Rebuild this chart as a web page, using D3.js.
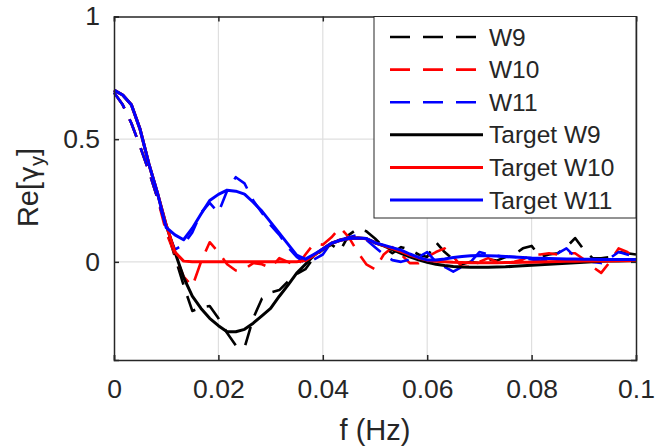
<!DOCTYPE html>
<html>
<head>
<meta charset="utf-8">
<script src="https://cdn.jsdelivr.net/npm/d3@7"></script>
<style>
  body { margin: 0; background: #fff; }
  text { font-family: "Liberation Sans", Arial, sans-serif; fill: #262626; }
</style>
</head>
<body>
<div id="chart"></div>
<script>
// frequency samples (Hz)
const freq = [0, 0.00167, 0.00333, 0.005, 0.00667, 0.00833, 0.01, 0.01167, 0.01333, 0.015,
  0.01667, 0.01833, 0.02, 0.02167, 0.02333, 0.025, 0.02667, 0.02833, 0.03, 0.03167,
  0.03333, 0.035, 0.03667, 0.03833, 0.04, 0.04167, 0.04333, 0.045, 0.04667, 0.04833,
  0.05, 0.05167, 0.05333, 0.055, 0.05667, 0.05833, 0.06, 0.06167, 0.06333, 0.065,
  0.06667, 0.06833, 0.07, 0.07167, 0.07333, 0.075, 0.07667, 0.07833, 0.08, 0.08167,
  0.08333, 0.085, 0.08667, 0.08833, 0.09, 0.09167, 0.09333, 0.095, 0.09667, 0.09833, 0.1];

// measured
const w9 = [0.69, 0.64, 0.565, 0.47, 0.37, 0.26, 0.14, 0.02, -0.095, -0.2,
  -0.185, -0.18, -0.23, -0.29, -0.34, -0.35, -0.23, -0.15, -0.125, -0.115,
  -0.08, -0.05, -0.03, 0.02, 0.05, 0.07, 0.045, 0.11, 0.135, 0.125,
  0.095, 0.06, 0.035, 0.06, 0.05, 0.03, 0.02, 0.08, 0.04, 0.01,
  -0.01, 0.0, -0.005, 0.01, 0.005, 0.02, 0.03, 0.055, 0.065, 0.02,
  0.03, 0.035, 0.06, 0.097, 0.05, 0.015, 0.015, 0.02, 0.04, 0.035, 0.03];
const w10 = [0.69, 0.64, 0.565, 0.47, 0.37, 0.26, 0.12, 0.03, -0.06, -0.1,
  0.0, 0.08, 0.04, -0.01, -0.035, -0.03, -0.005, -0.01, -0.025, 0.015,
  0.0, -0.02, 0.03, 0.075, 0.07, 0.1, 0.14, 0.1, 0.04, -0.01,
  -0.03, 0.03, 0.06, 0.03, -0.005, -0.005, 0.02, 0.04, 0.055, 0.02,
  -0.02, -0.02, 0.0, 0.015, 0.0, -0.005, 0.0, 0.01, 0.03, 0.03,
  0.035, 0.03, 0.035, 0.035, 0.01, -0.02, -0.045, 0.0, 0.055, 0.04, 0.015];
const w11 = [0.69, 0.64, 0.565, 0.47, 0.37, 0.26, 0.14, 0.05, 0.07, 0.12,
  0.2, 0.24, 0.2, 0.29, 0.345, 0.32, 0.25, 0.2, 0.15, 0.11,
  0.06, 0.02, -0.005, 0.01, 0.03, 0.08, 0.09, 0.1, 0.11, 0.09,
  0.06, 0.03, 0.007, 0.0, 0.01, 0.02, 0.04, 0.0, -0.02, -0.04,
  -0.02, 0.0, 0.04, 0.03, 0.025, 0.02, 0.02, 0.015, 0.01, 0.005,
  0.01, 0.035, 0.055, 0.02, 0.01, 0.0, -0.005, 0.015, 0.04, 0.03, 0.02];

// targets
const targetW9 = [0.70, 0.68, 0.64, 0.54, 0.40, 0.28, 0.15, 0.04, -0.063, -0.14,
  -0.19, -0.23, -0.26, -0.285, -0.285, -0.275, -0.25, -0.22, -0.19, -0.14,
  -0.095, -0.046, -0.01, 0.027, 0.052, 0.076, 0.088, 0.095, 0.097, 0.095,
  0.078, 0.065, 0.05, 0.035, 0.02, 0.008, -0.002, -0.01, -0.015, -0.019,
  -0.021, -0.022, -0.022, -0.022, -0.021, -0.02, -0.018, -0.016, -0.014, -0.012,
  -0.01, -0.008, -0.006, -0.004, -0.002, 0.0, 0.002, 0.003, 0.004, 0.005, 0.006];
const targetW10 = [0.70, 0.68, 0.64, 0.54, 0.40, 0.28, 0.15, 0.04, 0.003, 0,
  0, 0, 0, 0, 0, 0, 0, 0, 0, 0,
  0, 0, 0.005, 0.027, 0.052, 0.076, 0.088, 0.095, 0.097, 0.094,
  0.078, 0.066, 0.054, 0.042, 0.028, 0.016, 0.007, 0.002, 0.0, -0.002,
  -0.003, -0.004, -0.004, -0.004, -0.004, -0.003, -0.003, -0.002, -0.002, -0.001,
  0.0, 0.001, 0.002, 0.002, 0.003, 0.003, 0.004, 0.004, 0.005, 0.005, 0.005];
const targetW11 = [0.70, 0.68, 0.64, 0.54, 0.40, 0.28, 0.14, 0.11, 0.09, 0.137,
  0.195, 0.25, 0.275, 0.292, 0.288, 0.276, 0.243, 0.207, 0.162, 0.117,
  0.072, 0.027, 0.011, 0.031, 0.052, 0.076, 0.088, 0.095, 0.097, 0.095,
  0.078, 0.068, 0.058, 0.048, 0.032, 0.018, 0.008, 0.008, 0.012, 0.018,
  0.022, 0.025, 0.026, 0.025, 0.024, 0.022, 0.02, 0.018, 0.016, 0.015,
  0.014, 0.013, 0.012, 0.012, 0.011, 0.011, 0.01, 0.01, 0.01, 0.01, 0.01];

const seriesNames = ['W9', 'W10', 'W11', 'Target W9', 'Target W10', 'Target W11'];
const seriesColors = ['#000000', '#ff0000', '#0000ff', '#000000', '#ff0000', '#0000ff'];
const seriesValues = [w9, w10, w11, targetW9, targetW10, targetW11];

const xTicks = [0, 0.02, 0.04, 0.06, 0.08, 0.1];
const xTickLabels = ['0', '0.02', '0.04', '0.06', '0.08', '0.1'];
const yTicks = [0, 0.5, 1];
const yTickLabels = ['0', '0.5', '1'];

// svg領域設定
const svgWidth = 669;
const svgHeight = 448;
const svg = d3.select('#chart')
  .append('svg')
  .attr('width', svgWidth)
  .attr('height', svgHeight);

const plotLeft = 114, plotRight = 636, plotTop = 16.5, plotBottom = 360;

// scale設定
const x = d3.scaleLinear().domain([0, 0.1]).range([plotLeft, plotRight]);
const y = d3.scaleLinear().domain([-0.4, 1]).range([plotBottom, plotTop]);

// grid
const grid = svg.append('g').attr('stroke', '#dfdfdf').attr('stroke-width', 1.2);
grid.selectAll('.gx')
  .data(xTicks.slice(1, -1))
  .join('line')
  .attr('x1', d => x(d)).attr('x2', d => x(d))
  .attr('y1', plotTop).attr('y2', plotBottom);
grid.selectAll('.gy')
  .data(yTicks.slice(0, -1))
  .join('line')
  .attr('y1', d => y(d)).attr('y2', d => y(d))
  .attr('x1', plotLeft).attr('x2', plotRight);

// lines
const series = seriesNames.map((name, k) => ({
  name,
  color: seriesColors[k],
  dashed: k < 3,
  values: seriesValues[k].map((v, i) => ({ f: freq[i], v }))
}));

const line = d3.line()
  .x(d => x(d.f))
  .y(d => y(d.v));

const plot = svg.append('g');
plot.selectAll('path')
  .data(series)
  .join('path')
  .attr('fill', 'none')
  .attr('stroke', d => d.color)
  .attr('stroke-width', d => d.dashed ? 2.6 : 3)
  .attr('stroke-dasharray', d => d.dashed ? '19,12' : null)
  .attr('stroke-linejoin', 'round')
  .attr('d', d => line(d.values));

// axes
const xAxis = svg.append('g')
  .attr('transform', `translate(0,${plotBottom})`)
  .call(d3.axisBottom(x).tickValues(xTicks).tickSize(-5).tickPadding(19)
    .tickFormat((d, i) => xTickLabels[i]));
const yAxis = svg.append('g')
  .attr('transform', `translate(${plotLeft},0)`)
  .call(d3.axisLeft(y).tickValues(yTicks).tickSize(-5).tickPadding(14)
    .tickFormat((d, i) => yTickLabels[i]));
const xTop = svg.append('g')
  .attr('transform', `translate(0,${plotTop})`)
  .call(d3.axisTop(x).tickValues(xTicks).tickSize(-5).tickFormat(''));
const yRight = svg.append('g')
  .attr('transform', `translate(${plotRight},0)`)
  .call(d3.axisRight(y).tickValues(yTicks).tickSize(-5).tickFormat(''));

[xAxis, yAxis, xTop, yRight].forEach(g => {
  g.select('.domain').attr('stroke', '#262626').attr('stroke-width', 1.5);
  g.selectAll('.tick line').attr('stroke', '#262626').attr('stroke-width', 1.5);
  g.selectAll('.tick text')
    .attr('font-size', 26.5)
    .attr('font-family', '"Liberation Sans", Arial, sans-serif')
    .attr('fill', '#262626');
});

// axis labels
svg.append('text')
  .attr('x', (plotLeft + plotRight) / 2)
  .attr('y', 440)
  .attr('text-anchor', 'middle')
  .attr('font-size', 29)
  .text('f (Hz)');

const yl = svg.append('text')
  .attr('transform', 'translate(38,187.5) rotate(-90)')
  .attr('text-anchor', 'middle')
  .attr('font-size', 29);
yl.append('tspan').text('Re[');
yl.append('tspan').attr('font-family', '"DejaVu Sans", sans-serif').attr('font-size', 27).text('γ');
yl.append('tspan').attr('font-size', 20).attr('dy', 6).text('y');
yl.append('tspan').attr('dy', -6).text(']');

// legend
const legend = svg.append('g');
legend.append('rect')
  .attr('x', 374).attr('y', plotTop)
  .attr('width', plotRight - 374).attr('height', 218 - plotTop)
  .attr('fill', '#fff')
  .attr('stroke', '#262626')
  .attr('stroke-width', 1);

const rowY = d3.scaleLinear().domain([0, 5]).range([37, 200]);
const rows = legend.selectAll('.row')
  .data(series)
  .join('g')
  .attr('class', 'row')
  .attr('transform', (d, i) => `translate(0,${rowY(i)})`);
rows.append('line')
  .attr('x1', 390).attr('x2', 483)
  .attr('stroke', d => d.color)
  .attr('stroke-width', d => d.dashed ? 2.6 : 3)
  .attr('stroke-dasharray', d => d.dashed ? '20,13' : null);
rows.append('text')
  .attr('x', 489)
  .attr('dy', '0.35em')
  .attr('font-size', 24.5)
  .attr('fill', '#000')
  .text(d => d.name);
</script>
</body>
</html>
